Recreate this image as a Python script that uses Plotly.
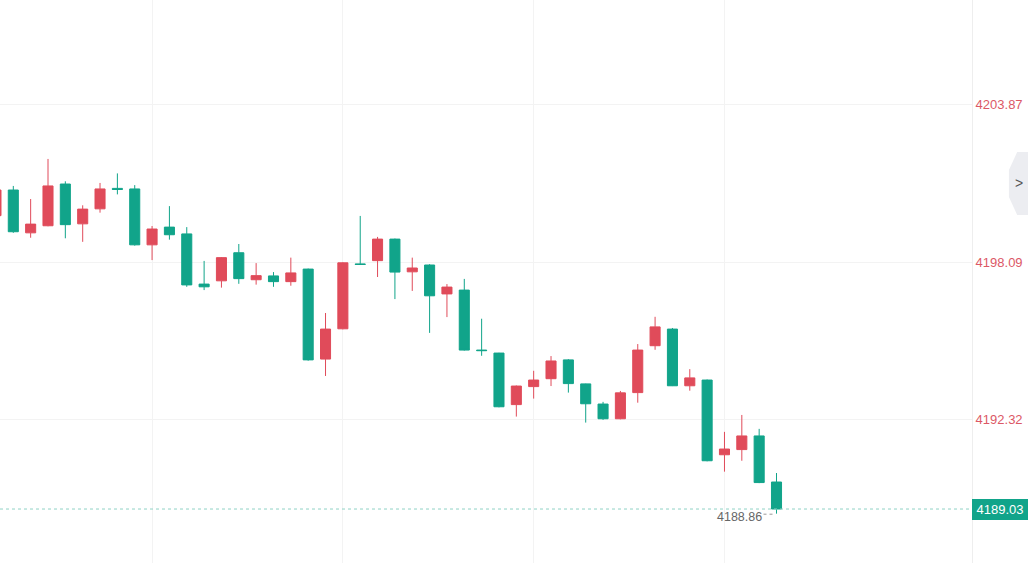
import plotly.graph_objects as go

# ---- data ----
opens = [4199.79, 4200.73, 4199.16, 4199.42, 4200.95, 4199.49, 4200.04, 4200.79, 4200.77, 4198.72,
         4199.37, 4199.12, 4197.28, 4197.40, 4198.43, 4197.44, 4197.58, 4197.37, 4197.83, 4194.53,
         4195.64, 4198.02, 4198.14, 4198.93, 4197.73, 4197.98, 4196.92, 4197.06, 4194.86, 4194.75,
         4192.86, 4193.52, 4193.81, 4194.50, 4193.62, 4192.88, 4192.34, 4193.30, 4195.02, 4195.63,
         4193.55, 4193.76, 4191.02, 4191.21, 4191.71, 4190.02]
highs = [4200.85, 4200.88, 4200.40, 4201.87, 4201.05, 4200.17, 4200.99, 4201.34, 4200.91, 4199.41,
         4200.14, 4199.37, 4198.13, 4198.27, 4198.75, 4198.05, 4197.72, 4198.25, 4197.85, 4196.22,
         4198.08, 4199.78, 4199.01, 4198.95, 4198.25, 4198.01, 4197.28, 4197.47, 4196.01, 4194.76,
         4193.56, 4194.10, 4194.64, 4194.53, 4193.63, 4192.96, 4193.36, 4195.08, 4196.08, 4195.67,
         4194.16, 4193.78, 4191.86, 4192.48, 4191.97, 4190.35]
lows = [4199.70, 4199.16, 4198.98, 4199.40, 4198.96, 4198.83, 4199.90, 4200.57, 4198.69, 4198.16,
        4198.91, 4197.18, 4197.06, 4197.15, 4197.29, 4197.26, 4197.18, 4197.22, 4194.47, 4193.91,
        4195.62, 4197.98, 4197.54, 4196.73, 4197.03, 4195.49, 4196.07, 4194.84, 4194.65, 4192.76,
        4192.42, 4193.08, 4193.54, 4193.30, 4192.20, 4192.30, 4192.32, 4192.93, 4194.87, 4193.54,
        4193.37, 4190.78, 4190.40, 4190.80, 4189.98, 4188.86]
closes = [4200.73, 4199.20, 4199.48, 4200.88, 4199.46, 4200.03, 4200.77, 4200.75, 4198.72, 4199.30,
          4199.09, 4197.25, 4197.18, 4198.25, 4197.48, 4197.59, 4197.37, 4197.69, 4194.50, 4195.63,
          4198.06, 4198.00, 4198.93, 4197.72, 4197.87, 4196.85, 4197.17, 4194.86, 4194.84, 4192.78,
          4193.54, 4193.76, 4194.46, 4193.63, 4192.89, 4192.34, 4193.29, 4194.86, 4195.71, 4193.55,
          4193.84, 4190.80, 4191.23, 4191.71, 4190.00, 4189.03]
xs = list(range(len(opens)))

y_ticks = [4203.87, 4198.09, 4192.32]
y_tick_labels = ["4203.87", "4198.09", "4192.32"]
x_grid = [9, 20, 31, 42]
last_price = 4189.03
low_price = 4188.86

RED = "#e04b5a"
TEAL = "#11a48a"
FONT = "Liberation Sans, Arial"

fig = go.Figure()
fig.add_trace(go.Candlestick(
    x=xs, open=opens, high=highs, low=lows, close=closes,
    increasing=dict(line=dict(color=RED, width=1), fillcolor=RED),
    decreasing=dict(line=dict(color=TEAL, width=1), fillcolor=TEAL),
    whiskerwidth=0, hoverinfo="skip", showlegend=False,
))

# last price dotted line
fig.add_shape(type="line", xref="paper", x0=0, x1=1, yref="y", y0=last_price, y1=last_price,
              line=dict(color="#8fd2c5", width=1, dash="dot"))
# last price box label
fig.add_annotation(xref="paper", x=1, xanchor="left", yref="y", y=last_price, yanchor="middle",
                   text="4189.03", showarrow=False, bgcolor=TEAL, bordercolor=TEAL,
                   borderwidth=0, borderpad=2, width=52, height=17,
                   font=dict(color="white", size=13, family=FONT))
# low marker label
fig.add_shape(type="line", xref="x", x0=len(xs) - 1.75, x1=len(xs) - 1.2, yref="y",
              y0=low_price - 0.02, y1=low_price - 0.02,
              line=dict(color="#999999", width=1, dash="dot"))
fig.add_annotation(xref="x", x=len(xs) - 1, xanchor="right", xshift=-13, yref="y", y=low_price,
                   yanchor="middle", yshift=-3, text="4188.86", showarrow=False,
                   font=dict(color="#666666", size=12.5, family=FONT))

# side tab with chevron
fig.add_shape(type="path", xref="paper", yref="paper",
              path="M 1.0576 0.73 L 1.0465 0.73 L 1.038 0.698 L 1.038 0.65 L 1.0465 0.618 L 1.0576 0.618 Z",
              fillcolor="#ecedf1", line=dict(width=0))
fig.add_annotation(xref="paper", yref="paper", x=1.0485, y=0.675, text=">", showarrow=False,
                   font=dict(color="#555555", size=14, family=FONT),
                   xanchor="center", yanchor="middle")

fig.update_layout(
    width=1028, height=563,
    margin=dict(l=0, r=56, t=0, b=0),
    paper_bgcolor="white", plot_bgcolor="white",
    boxgap=0.42, boxgroupgap=0,
    xaxis=dict(range=[0.233, 56.27], rangeslider=dict(visible=False), tickvals=x_grid,
               showticklabels=False, showgrid=True, gridcolor="#f3f3f3", gridwidth=1,
               zeroline=False, showline=False, ticks=""),
    yaxis=dict(range=[4187.05, 4207.70], side="right", tickvals=y_ticks, ticktext=y_tick_labels,
               showgrid=True, gridcolor="#f3f3f3", gridwidth=1, zeroline=False,
               showline=True, linecolor="#eeeeee", linewidth=1, ticks="",
               tickfont=dict(color="#dc5866", size=13, family=FONT)),
    font=dict(family=FONT),
)

fig.write_html("out.html")
